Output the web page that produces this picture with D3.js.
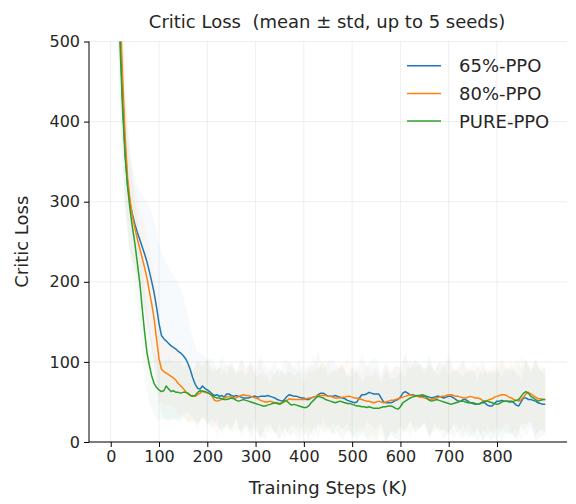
<!DOCTYPE html>
<html>
<head>
<meta charset="utf-8">
<script src="https://cdn.jsdelivr.net/npm/d3@7"></script>
<style>
  html, body { margin: 0; padding: 0; background: #fff; }
  svg { display: block; font-family: "DejaVu Sans", sans-serif; }
  text { white-space: pre; }
</style>
</head>
<body>
<svg id="chart" width="576" height="504"></svg>
<script>
// ---------------- data ----------------
const title = "Critic Loss  (mean \u00b1 std, up to 5 seeds)";
const xLabel = "Training Steps (K)";
const yLabel = "Critic Loss";
const seriesNames = ["65%-PPO", "80%-PPO", "PURE-PPO"];
const seriesColors = ["#1f77b4", "#ff7f0e", "#2ca02c"];
const xTicks = [0, 100, 200, 300, 400, 500, 600, 700, 800];
const yTicks = [0, 100, 200, 300, 400, 500];

// mean values every 5K steps, 0 .. 900K
const meanStep = 5;
const mean65 = [
 950,820,700,590,500,420,360,320,298,284,272,262,253,244,235,225,213,200,186,168,
 148,133,129,126,123,120,118,116,113,111,108,104,98,90,80,72,67,66,70,67,
 65,63,60,58,59,57,58,56,60,60,58,57,58,57,56,55,55,55,56,57,
 57,56,57,57,57,58,57,56,55,53,52,51,53,57,59,58,57,57,56,55,
 55,53,53,55,56,57,59,61,61,59,57,57,57,58,57,56,55,54,52,51,
 50,49,50,55,59,59,60,62,61,60,60,60,55,50,49,49,49,50,52,53,
 56,61,63,61,59,59,58,57,57,57,57,57,56,55,56,57,57,56,55,56,
 57,57,55,53,51,51,53,53,51,49,48,47,47,48,49,49,46,45,45,48,
 51,51,52,51,51,51,51,49,46,45,50,55,55,53,53,52,51,49,48,47,
 47
];
const mean80 = [
 1000,860,730,620,530,450,380,330,302,282,267,254,242,230,218,205,188,172,153,128,
 104,91,88,86,84,82,80,77,73,70,67,63,60,58,58,57,59,61,64,62,
 61,61,57,52,51,52,53,55,56,57,56,55,55,57,58,59,58,58,57,56,
 55,54,52,51,50,50,51,50,49,49,48,49,50,52,54,53,53,53,53,53,
 53,54,55,55,56,57,58,58,58,58,57,57,56,55,55,55,56,56,57,57,
 56,55,55,54,53,52,51,51,50,49,50,51,50,49,50,51,52,52,53,54,
 55,56,57,58,59,58,57,57,56,56,55,54,53,53,54,55,56,57,57,58,
 59,59,58,57,57,56,55,55,56,57,56,55,55,54,52,51,52,53,54,56,
 57,58,59,59,58,56,55,53,52,51,53,56,60,62,60,58,56,54,54,53,
 53
];
const meanPure = [
 980,830,700,580,485,410,355,318,290,268,248,224,200,168,138,112,96,82,73,68,
 65,63,64,70,66,63,64,62,62,61,62,62,61,58,57,58,62,64,63,63,
 62,60,58,56,55,55,54,53,53,54,55,54,52,51,52,53,52,51,50,49,
 48,47,46,45,45,46,47,48,49,48,47,49,52,51,48,46,47,46,45,44,
 43,43,45,49,52,55,57,56,55,53,52,51,50,49,50,51,50,49,48,48,
 47,46,45,45,44,44,43,44,43,42,42,42,43,44,44,45,45,44,42,41,
 44,49,51,53,55,56,57,58,58,59,58,55,52,51,52,53,52,51,50,49,
 48,47,48,49,50,51,51,50,49,49,49,48,47,48,50,51,51,50,49,48,
 47,48,50,51,51,50,50,51,52,53,57,61,63,61,57,55,53,51,52,53,
 53
];

// std across seeds every 10K steps, 0 .. 900K
const stdStep = 10;
const std65 = [
 150,120,90,70,60,55,60,70,80,90,100,100,95,90,85,75,60,50,45,40,
 38,45,30,50,35,42,28,48,36,44,30,52,38,33,46,29,50,40,35,47,
 31,44,38,55,30,42,48,34,40,29,46,37,52,33,41,45,30,49,36,43,
 38,50,32,46,40,35,53,31,44,39,47,33,41,50,36,42,30,48,38,45,
 34,51,37,43,40,29,47,35,52,41,38
];
const std80 = [
 160,130,100,75,60,50,48,52,56,55,50,42,38,36,40,34,38,32,44,30,
 40,35,46,31,42,38,29,47,34,43,37,50,30,41,36,45,33,48,39,31,
 44,36,52,34,40,47,30,42,38,49,35,41,32,46,39,44,30,51,37,42,
 35,48,33,45,39,30,47,36,43,40,52,34,38,46,31,44,37,50,33,41,
 39,47,32,45,36,53,40,34,48,38,42
];
const stdPure = [
 155,125,95,70,60,55,58,55,48,40,38,36,40,34,37,32,35,30,38,33,
 42,29,36,40,31,44,35,38,30,46,33,39,42,28,37,45,32,40,35,48,
 30,43,37,34,46,31,40,38,50,33,36,44,29,41,39,47,32,45,35,38,
 42,30,49,36,40,33,45,38,31,47,35,42,37,30,44,39,48,34,41,36,
 46,32,43,38,51,35,40,33,44,37,41
];

// ---------------- layout ----------------
const plot = { left: 89, right: 567, top: 41.5, bottom: 442 };
const TICK_FONT = 16;
const LABEL_FONT = 18;

const svg = d3.select("#chart");

const x = d3.scaleLinear().domain([-45, 945]).range([plot.left, plot.right]);
const y = d3.scaleLinear().domain([0, 500]).range([plot.bottom, plot.top]);

svg.append("defs").append("clipPath").attr("id", "clip")
  .append("rect")
  .attr("x", plot.left).attr("y", plot.top)
  .attr("width", plot.right - plot.left).attr("height", plot.bottom - plot.top);

// grid
const grid = svg.append("g").attr("class", "grid");
grid.selectAll("line.gx").data(xTicks).join("line")
  .attr("x1", d => x(d)).attr("x2", d => x(d))
  .attr("y1", plot.top).attr("y2", plot.bottom)
  .attr("stroke", "#b0b0b0").attr("stroke-opacity", 0.25).attr("stroke-width", 0.8);
grid.selectAll("line.gy").data(yTicks).join("line")
  .attr("x1", plot.left).attr("x2", plot.right)
  .attr("y1", d => y(d)).attr("y2", d => y(d))
  .attr("stroke", "#b0b0b0").attr("stroke-opacity", 0.25).attr("stroke-width", 0.8);

const series = [
  { name: seriesNames[0], color: seriesColors[0], mean: mean65, std: std65 },
  { name: seriesNames[1], color: seriesColors[1], mean: mean80, std: std80 },
  { name: seriesNames[2], color: seriesColors[2], mean: meanPure, std: stdPure }
];

const gData = svg.append("g").attr("clip-path", "url(#clip)");

series.forEach(s => {
  const band = s.std.map((sd, i) => {
    const step = i * stdStep;
    const m = s.mean[Math.round(step / meanStep)];
    return { step, lo: Math.max(0, m - sd), hi: m + sd };
  });
  gData.append("path")
    .datum(band)
    .attr("fill", s.color)
    .attr("fill-opacity", 0.04)
    .attr("stroke", "none")
    .attr("d", d3.area().x(d => x(d.step)).y0(d => y(d.lo)).y1(d => y(d.hi)));
});

series.forEach(s => {
  const pts = s.mean.map((v, i) => ({ step: i * meanStep, v }));
  gData.append("path")
    .datum(pts)
    .attr("fill", "none")
    .attr("stroke", s.color)
    .attr("stroke-width", 1.5)
    .attr("stroke-linejoin", "round")
    .attr("d", d3.line().x(d => x(d.step)).y(d => y(d.v)));
});

// axes
const xAxis = d3.axisBottom(x).tickValues(xTicks).tickSize(5).tickPadding(4).tickFormat(d3.format("d"));
const yAxis = d3.axisLeft(y).tickValues(yTicks).tickSize(5).tickPadding(4).tickFormat(d3.format("d"));

const gx = svg.append("g").attr("transform", `translate(0,${plot.bottom})`).call(xAxis);
const gy = svg.append("g").attr("transform", `translate(${plot.left},0)`).call(yAxis);
[gx, gy].forEach(g => {
  g.select(".domain").attr("stroke", "#000").attr("stroke-width", 1);
  g.selectAll(".tick line").attr("stroke", "#000").attr("stroke-width", 1);
  g.selectAll(".tick text").attr("fill", "#262626")
    .style("font-family", "DejaVu Sans").style("font-size", TICK_FONT + "px");
});
gx.select(".domain").attr("d", `M${plot.left},0H${plot.right}`);
gy.select(".domain").attr("d", `M0,${plot.bottom}V${plot.top}`);

// labels
svg.append("text")
  .attr("x", (plot.left + plot.right) / 2 - 1).attr("y", 28)
  .attr("text-anchor", "middle").attr("fill", "#262626")
  .style("font-size", LABEL_FONT + "px").text(title);

svg.append("text")
  .attr("x", (plot.left + plot.right) / 2).attr("y", 494)
  .attr("text-anchor", "middle").attr("fill", "#262626")
  .style("font-size", LABEL_FONT + "px").text(xLabel);

svg.append("text")
  .attr("transform", `translate(28,${(plot.top + plot.bottom) / 2}) rotate(-90)`)
  .attr("text-anchor", "middle").attr("fill", "#262626")
  .style("font-size", LABEL_FONT + "px").text(yLabel);

// legend
const legend = svg.append("g");
series.forEach((s, i) => {
  const ly = 65.7 + i * 27.7;
  legend.append("line")
    .attr("x1", 407).attr("x2", 441).attr("y1", ly).attr("y2", ly)
    .attr("stroke", s.color).attr("stroke-width", 1.5);
  legend.append("text")
    .attr("x", 459).attr("y", ly).attr("dy", "0.36em")
    .attr("fill", "#262626")
    .style("font-size", LABEL_FONT + "px").text(s.name);
});
</script>
</body>
</html>
